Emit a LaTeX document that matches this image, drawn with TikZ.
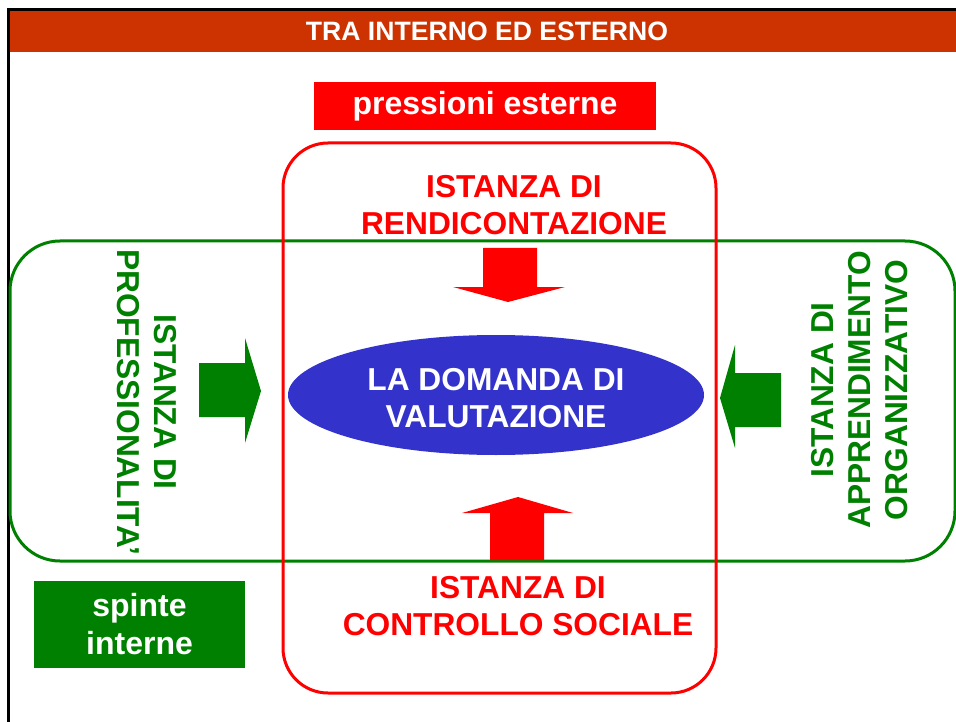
\documentclass[tikz,border=0pt]{standalone}
\usepackage{fontspec}
\setmainfont{Liberation Sans}
\usetikzlibrary{shapes.geometric}
\definecolor{titlered}{HTML}{CC3300}
\definecolor{pgreen}{HTML}{008000}
\definecolor{pred}{HTML}{FF0000}
\definecolor{pblue}{HTML}{3333CC}
\begin{document}
\begin{tikzpicture}[x=1pt,y=-1pt,
  lbl/.style={font=\bfseries\fontsize{31.7}{37}\selectfont, align=center, inner sep=0pt},
  boxlbl/.style={font=\bfseries\fontsize{32}{38}\selectfont, align=center, text=white, inner sep=0pt}]
\useasboundingbox (0,0) rectangle (956,722);
% frame
\fill[titlered] (9,11) rectangle (956,52);
\draw[line width=3pt, black] (8,722) -- (8,10) -- (956,10);
\node[font=\bfseries\fontsize{26.6}{30}\selectfont, text=white, inner sep=0pt] (title) at (487,31) {TRA INTERNO ED ESTERNO};
% pressioni esterne
\node[fill=pred, minimum width=342pt, minimum height=48pt, inner sep=0pt] (press) at (485,106) {};
\node[boxlbl] (presst) at (press.center) {pressioni esterne};
% spinte interne
\node[fill=pgreen, minimum width=211pt, minimum height=87pt, inner sep=0pt] (spinte) at (139.5,624.5) {};
\node[boxlbl] (spintet) at (spinte.center) {spinte\\interne};
% green rounded rect
\draw[pgreen, line width=3pt, rounded corners=50pt] (10,241) rectangle (955,561);
% red rounded rect
\draw[pred, line width=3pt, rounded corners=45pt] (283,143) rectangle (716,693);
% ellipse
\node[ellipse, fill=pblue, minimum width=416pt, minimum height=120pt, inner sep=0pt] (dom) at (496,395) {};
\node[lbl, text=white] (domt) at (496,398) {LA DOMANDA DI\\VALUTAZIONE};
% labels
\node[lbl, text=pred] (rend) at (514,205) {ISTANZA DI\\RENDICONTAZIONE};
\node[lbl, text=pred] (contr) at (518,606) {ISTANZA DI\\CONTROLLO SOCIALE};
\node[lbl, text=pgreen, rotate=-90] (prof) at (147,402) {ISTANZA DI\\PROFESSIONALITA’};
\node[lbl, text=pgreen, rotate=90] (appr) at (860,390) {ISTANZA DI\\APPRENDIMENTO\\ORGANIZZATIVO};
% arrows
\fill[pred] (483,248) -- (537,248) -- (537,287) -- (565,287) -- (508,302) -- (453,287) -- (483,287) -- cycle;
\fill[pred] (490,560) -- (544,560) -- (544,513) -- (573,513) -- (518,497) -- (462,513) -- (490,513) -- cycle;
\fill[pgreen] (199,363) -- (245,363) -- (245,338) -- (261,391) -- (245,443) -- (245,417) -- (199,417) -- cycle;
\fill[pgreen] (781,373) -- (735,373) -- (735,345) -- (720,398) -- (735,448) -- (735,427) -- (781,427) -- cycle;
\end{tikzpicture}
\end{document}
